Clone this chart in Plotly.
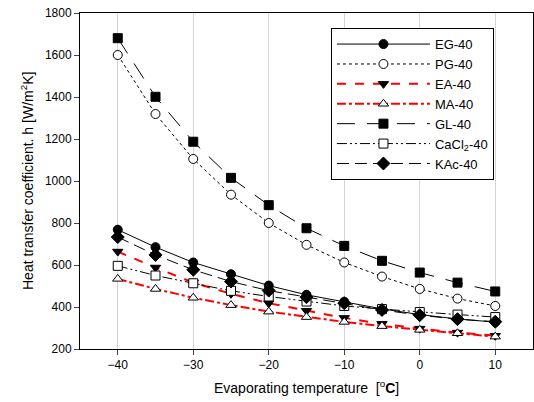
import plotly.graph_objects as go

temps = [-40, -35, -30, -25, -20, -15, -10, -5, 0, 5, 10]
eg = [768, 685, 612, 556, 502, 458, 425, 391, 364, 343, 328]
pg = [1600, 1319, 1105, 935, 800, 696, 612, 545, 486, 440, 405]
ea = [664, 588, 516, 463, 418, 382, 348, 320, 297, 278, 263]
ma = [534, 486, 444, 409, 378, 352, 329, 309, 291, 275, 259]
gl = [1680, 1401, 1187, 1015, 885, 775, 691, 620, 564, 516, 474]
cacl2 = [596, 550, 513, 477, 450, 426, 405, 390, 376, 364, 352]
kac = [733, 648, 577, 521, 478, 447, 418, 386, 361, 342, 330]

x_ticks = [-40, -30, -20, -10, 0, 10]
y_ticks = [200, 400, 600, 800, 1000, 1200, 1400, 1600, 1800]

x_title = "Evaporating temperature  [<sup>o</sup><b>C</b>]"
y_title = "Heat transfer coefficient. h [W/m<sup>2</sup>K]"

series = [
    ("EG-40", eg, "black", "solid", 1, "circle", "black"),
    ("PG-40", pg, "black", "dot", 1, "circle", "white"),
    ("EA-40", ea, "red", "dash", 2, "triangle-down", "black"),
    ("MA-40", ma, "red", "dashdot", 2, "triangle-up", "white"),
    ("GL-40", gl, "black", "18px,12px", 1, "square", "black"),
    ("CaCl<sub>2</sub>-40", cacl2, "black", "10px,3px,2px,3px,2px,3px", 1, "square", "white"),
    ("KAc-40", kac, "black", "12px,6px", 1, "diamond", "black"),
]

fig = go.Figure()
for name, ys, col, dash, w, sym, fill in series:
    fig.add_trace(go.Scatter(
        x=temps, y=ys, name=name, mode="lines+markers",
        line=dict(color=col, dash=dash, width=w),
        marker=dict(symbol=sym, size=9 if sym != "diamond" else 10,
                    color=fill, line=dict(color="black", width=1)),
    ))

font_family = "Liberation Sans, Arial, sans-serif"
fig.update_layout(
    width=534, height=402,
    margin=dict(l=80, r=1, t=13, b=53),
    paper_bgcolor="white", plot_bgcolor="white",
    font=dict(family=font_family, size=12, color="black"),
    legend=dict(
        x=0.554, y=0.955, xanchor="left", yanchor="top",
        bordercolor="black", borderwidth=1, bgcolor="white",
        itemwidth=93, font=dict(size=13), tracegroupgap=0,
    ),
    xaxis=dict(
        range=[-45, 15], tickvals=x_ticks, ticks="outside", ticklen=5,
        showgrid=True, gridcolor="#d3d3d3", gridwidth=1, zeroline=False,
        showline=True, linecolor="black", linewidth=1, mirror=True,
        automargin=False, ticklabeloverflow="allow",
    ),
    yaxis=dict(
        range=[200, 1800], tickvals=y_ticks, ticks="outside", ticklen=5,
        showgrid=False, zeroline=False,
        showline=True, linecolor="black", linewidth=1, mirror=True,
        automargin=False, ticklabeloverflow="allow",
    ),
    annotations=[
        dict(text=x_title, xref="paper", yref="paper", x=0.5, y=0,
             xanchor="center", yanchor="middle", yshift=-38,
             showarrow=False, font=dict(size=14)),
        dict(text=y_title, xref="paper", yref="paper", x=0, y=0.5,
             xanchor="center", yanchor="middle", xshift=-53, textangle=-90,
             showarrow=False, font=dict(size=14)),
    ],
)

fig.write_html(
    "out.html",
    config={"displayModeBar": False},
    post_script="document.body.style.margin='0';document.body.style.padding='0';",
)
